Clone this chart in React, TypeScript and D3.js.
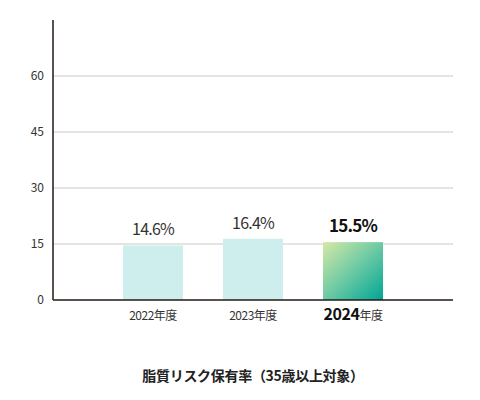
import React from "react";
import * as d3 from "d3";

const categories = ["2022", "2023", "2024"];
const values = [14.6, 16.4, 15.5];
const yTicks = [0, 15, 30, 45, 60];
const title = "脂質リスク保有率（35歳以上対象）";

const W = 480;
const H = 400;
const axisColor = "#231815";
const font = "'Noto Sans CJK JP', 'Noto Sans', sans-serif";

export default function App() {
  const x = d3.scaleBand<string>().domain(categories).range([103, 403]).paddingInner(0.4).paddingOuter(0.2);
  const y = d3.scaleLinear().domain([0, 75]).range([300, 20]);
  const last = categories.length - 1;

  return (
    <svg width={W} height={H} style={{ position: "absolute", left: 0, top: 0 }} fontFamily={font}>
      <defs>
        <linearGradient id="g2024" x1="0" y1="0" x2="1" y2="1">
          <stop offset="0%" stopColor="#d6e8a6" />
          <stop offset="50%" stopColor="#6ccaa4" />
          <stop offset="100%" stopColor="#00a595" />
        </linearGradient>
      </defs>
      {yTicks.filter((t) => t > 0).map((t) => (
        <line key={t} x1={53} x2={453} y1={y(t)} y2={y(t)} stroke="#c8c8c8" strokeWidth={1} />
      ))}
      {yTicks.map((t) => (
        <text key={"l" + t} x={44} y={y(t)} dy="0.35em" textAnchor="end" fontSize={12} fill="#333">
          {t}
        </text>
      ))}
      {categories.map((c, i) => {
        const bx = x(c)!;
        const bw = x.bandwidth();
        const cx = bx + bw / 2;
        const isLast = i === last;
        return (
          <g key={c}>
            <rect x={bx} y={y(values[i])} width={bw} height={y(0) - y(values[i])} fill={isLast ? "url(#g2024)" : "#cdeeed"} />
            <text
              x={cx}
              y={y(values[i]) - 10}
              textAnchor="middle"
              fontSize={isLast ? 17 : 16}
              fontWeight={isLast ? 700 : 400}
              letterSpacing={-0.8}
              fill={isLast ? "#111" : "#333"}
            >
              {values[i].toFixed(1)}%
            </text>
            <text x={cx} y={320} textAnchor="middle" fill="#333" letterSpacing={-0.5}>
              {isLast ? (
                <>
                  <tspan fontSize={16} fontWeight={700} fill="#111">{c}</tspan>
                  <tspan fontSize={12}>年度</tspan>
                </>
              ) : (
                <tspan fontSize={12}>{c}年度</tspan>
              )}
            </text>
          </g>
        );
      })}
      <line x1={53} x2={53} y1={20} y2={300} stroke={axisColor} strokeWidth={1.5} />
      <line x1={53} x2={453} y1={300} y2={300} stroke={axisColor} strokeWidth={1.5} />
      <text x={253} y={381} textAnchor="middle" fontSize={14} fontWeight={700} fill="#222" letterSpacing={-0.3}>
        {title}
      </text>
    </svg>
  );
}
